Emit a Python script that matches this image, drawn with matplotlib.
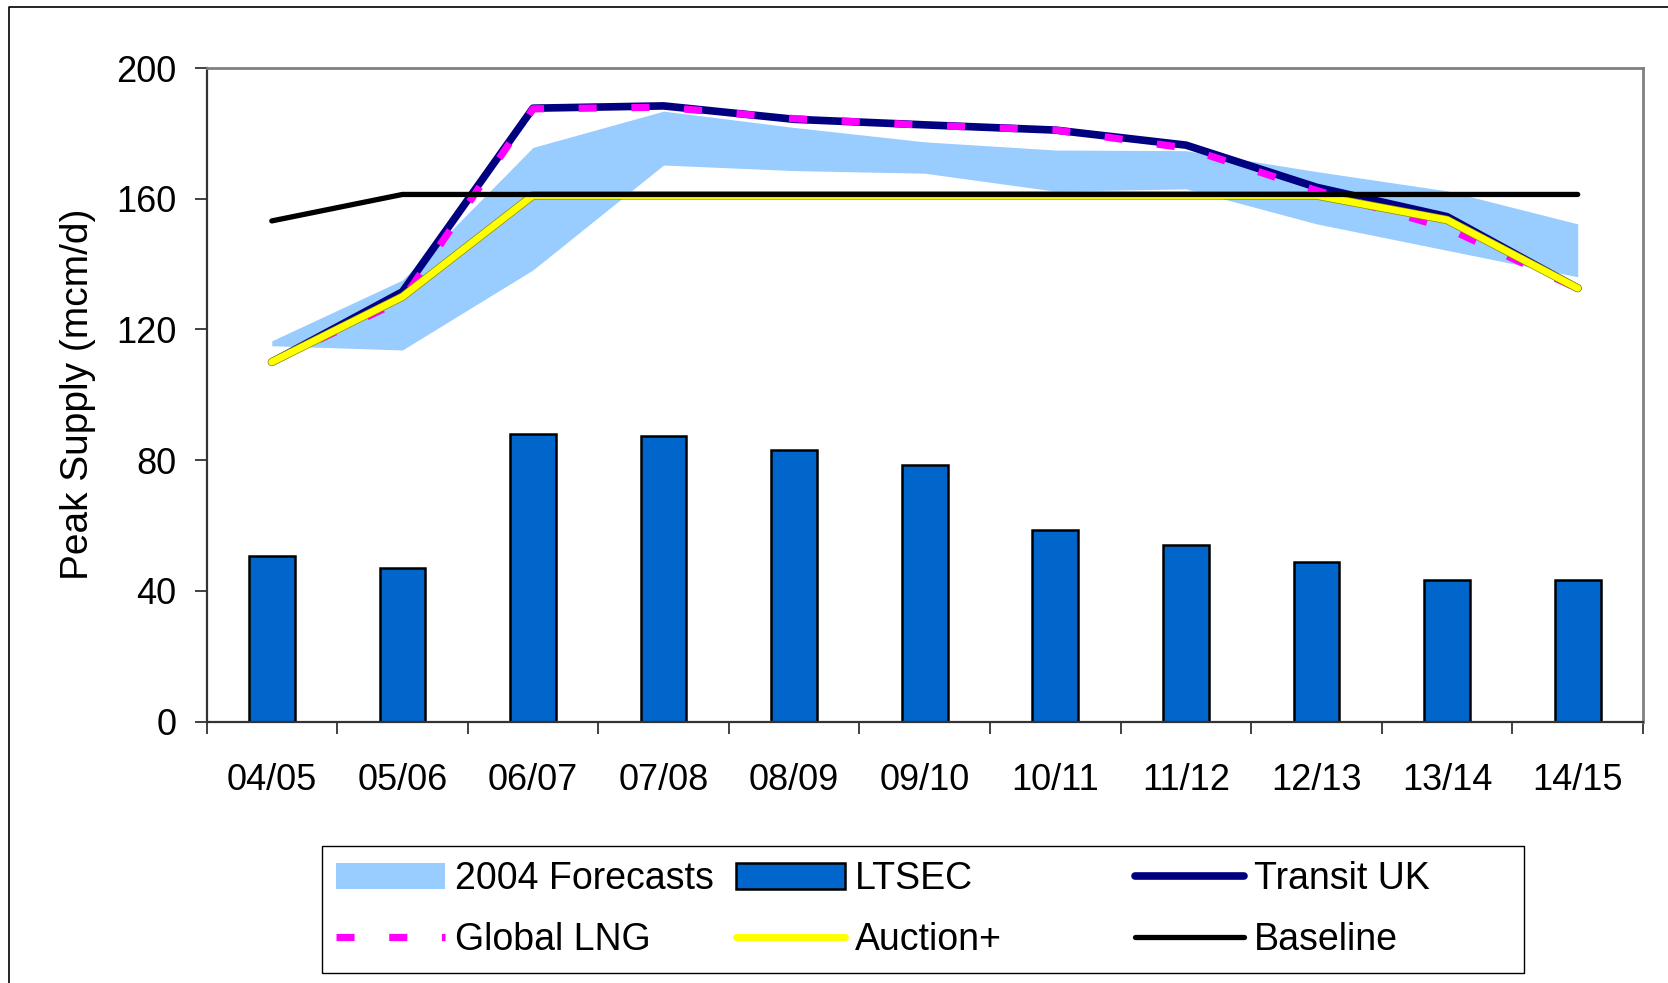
import numpy as np
import matplotlib
matplotlib.use('Agg')
import matplotlib.pyplot as plt
import matplotlib.patheffects as pe
from matplotlib.patches import Patch, Rectangle
from matplotlib.lines import Line2D

plt.rcParams['font.family'] = ['Liberation Sans', 'DejaVu Sans']

# data
years = ['04/05', '05/06', '06/07', '07/08', '08/09', '09/10',
         '10/11', '11/12', '12/13', '13/14', '14/15']
forecast_low = [115, 113.7, 138.2, 170.3, 168.6, 167.8, 162.3, 163.0, 152.3, 144.2, 136.1]
forecast_high = [116.5, 135.1, 175.7, 186.8, 181.8, 177.4, 174.9, 174.7, 168.3, 162.4, 152.3]
ltsec = [50.5, 47, 88, 87.5, 83, 78.4, 58.5, 54, 48.8, 43.3, 43.3]
transit_uk = [110, 131.5, 187.7, 188.4, 184.3, 182.6, 181, 176.4, 163.5, 154.5, 132.6]
global_lng = [110, 129, 187.5, 188, 184.5, 182.5, 181, 175.5, 162.5, 151, 132.5]
auction_plus = [110, 130, 161, 161, 161, 161, 161, 161, 161, 153.5, 132.6]
baseline = [153.2, 161.3, 161.3, 161.3, 161.3, 161.3, 161.3, 161.3, 161.3, 161.3, 161.3]

W, H = 1668, 983
fig = plt.figure(figsize=(W / 100, H / 100), dpi=100)
ax = fig.add_axes([206.5 / W, 1 - 721.5 / H, (1643 - 206.5) / W, (721.5 - 68) / H])

x = np.arange(len(years))

ax.fill_between(x, forecast_low, forecast_high, color='#99CCFF', lw=0, zorder=1)
ax.bar(x, ltsec, width=0.35, color='#0066CC', edgecolor='black', linewidth=1.8, zorder=2)
ax.plot(x, transit_uk, color='#000080', lw=5.5, solid_capstyle='round',
        solid_joinstyle='round', zorder=3)
ax.plot(x, global_lng, color='#FF00FF', lw=5.2, dashes=(2.5, 4.8),
        dash_capstyle='butt', zorder=4)
ax.plot(x, auction_plus, color='#FFFF00', lw=5, solid_capstyle='round',
        solid_joinstyle='round', zorder=5,
        path_effects=[pe.Stroke(linewidth=6, foreground='#8c8c00'), pe.Normal()])
ax.plot(x, baseline, color='black', lw=3.8, solid_capstyle='round', zorder=6)

ax.set_xlim(-0.5, 10.5)
ax.set_ylim(0, 200)
ax.set_yticks([0, 40, 80, 120, 160, 200])
ax.set_xticks(x)
ax.set_xticklabels(years)
ax.set_xticks(np.arange(-0.5, 11, 1), minor=True)

ax.tick_params(axis='y', direction='out', length=8.6, width=1.3, labelsize=26, pad=13,
               color='#333333')
ax.tick_params(axis='x', which='major', length=0, labelsize=26, pad=30)
ax.tick_params(axis='x', which='minor', direction='out', length=8.6, width=1.3,
               color='#333333')

for s in ['top', 'right']:
    ax.spines[s].set_color('#808080')
    ax.spines[s].set_linewidth(2)
for s in ['left', 'bottom']:
    ax.spines[s].set_color('#333333')
    ax.spines[s].set_linewidth(1.6)

ax.set_ylabel('Peak Supply (mcm/d)', fontsize=28)
ax.yaxis.set_label_coords(-0.077, 0.5)

# legend: three columns with equal spacing like the original
h_fc = Patch(facecolor='#99CCFF', edgecolor='none')
h_lt = Patch(facecolor='#0066CC', edgecolor='black', linewidth=1.8)
h_tr = Line2D([], [], color='#000080', lw=5.5, solid_capstyle='round')
h_lng = Line2D([], [], color='#FF00FF', lw=5.2, dashes=(2.5, 4.8))
h_au = Line2D([], [], color='#FFFF00', lw=5, solid_capstyle='round')
h_bl = Line2D([], [], color='black', lw=3.8, solid_capstyle='round')

cols = [([h_fc, h_lng], ['2004 Forecasts', 'Global LNG'], 336),
        ([h_lt, h_au], ['LTSEC', 'Auction+'], 736),
        ([h_tr, h_bl], ['Transit UK', 'Baseline'], 1135)]
for handles, labels, xpx in cols:
    fig.legend(handles, labels, loc='upper left', bbox_to_anchor=(xpx / W, 1 - 861 / H),
               frameon=False, fontsize=27, borderpad=0, borderaxespad=0,
               handlelength=2.9, handletextpad=0.27, labelspacing=0.68)

fig.patches.append(Rectangle((322 / W, 1 - 973 / H), (1524 - 322) / W, (973 - 846) / H,
                             transform=fig.transFigure, fill=False, ec='black', lw=1))

# outer chart border (only top and left visible)
fig.lines.append(Line2D([8.7 / W, 8.7 / W, 1], [0, 1 - 6.7 / H, 1 - 6.7 / H],
                        transform=fig.transFigure, color='black', lw=1.2))

fig.savefig('out.png', dpi=100)
